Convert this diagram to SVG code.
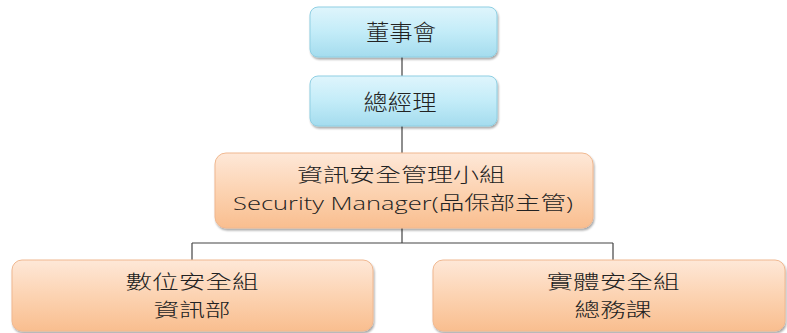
<svg xmlns="http://www.w3.org/2000/svg" width="787" height="333" viewBox="0 0 787 333">
<style>
.t{font-family:"Noto Sans CJK TC","Noto Sans",sans-serif;font-size:22px;font-weight:300;fill:#222;text-anchor:middle}
.s{font-size:19px}
.lat{font-family:"Open Sans","Noto Sans CJK TC",sans-serif}
.blue{fill:url(#gb);stroke:#8fcfe3;stroke-width:1}
.orange{fill:url(#go);stroke:#f0b890;stroke-width:1}
.c{stroke:#444;stroke-width:1.2;fill:none}
</style>
<defs>
<linearGradient id="gb" x1="0" y1="0" x2="0" y2="1">
<stop offset="0" stop-color="#dff5fc"/>
<stop offset="0.5" stop-color="#c3ecf8"/>
<stop offset="1" stop-color="#a4dcee"/>
</linearGradient>
<linearGradient id="go" x1="0" y1="0" x2="0" y2="1">
<stop offset="0" stop-color="#fee8d8"/>
<stop offset="0.5" stop-color="#fcd3b2"/>
<stop offset="1" stop-color="#f9be8f"/>
</linearGradient>
<filter id="sh" x="-5%" y="-10%" width="110%" height="130%">
<feGaussianBlur in="SourceAlpha" stdDeviation="1.2"/>
<feOffset dx="1" dy="2" result="b"/>
<feComponentTransfer><feFuncA type="linear" slope="0.35"/></feComponentTransfer>
<feMerge><feMergeNode/><feMergeNode in="SourceGraphic"/></feMerge>
</filter>
</defs>
<g id="connectors">
<path class="c" d="M402 57V76M402 126V153M402 228V243M192 243H613M192 243V260M613 243V260"/>
</g>
<g id="board">
<rect class="blue" x="310" y="7" width="187" height="50" rx="8" filter="url(#sh)"/>
<text class="t" x="401" y="40" textLength="70" lengthAdjust="spacingAndGlyphs">董事會</text>
</g>
<g id="gm">
<rect class="blue" x="310" y="76" width="187" height="50" rx="8" filter="url(#sh)"/>
<text class="t" x="400" y="110" textLength="73" lengthAdjust="spacingAndGlyphs">總經理</text>
</g>
<g id="isms">
<rect class="orange" x="215" y="153" width="378" height="75" rx="11" filter="url(#sh)"/>
<text class="t s" x="401" y="182" textLength="208" lengthAdjust="spacingAndGlyphs">資訊安全管理小組</text>
<text class="t s lat" x="403" y="210" textLength="340" lengthAdjust="spacingAndGlyphs">Security Manager(品保部主管)</text>
</g>
<g id="digital">
<rect class="orange" x="12" y="260" width="361" height="71" rx="10" filter="url(#sh)"/>
<text class="t s" x="192" y="289" textLength="133" lengthAdjust="spacingAndGlyphs">數位安全組</text>
<text class="t s" x="192" y="317" textLength="77" lengthAdjust="spacingAndGlyphs">資訊部</text>
</g>
<g id="physical">
<rect class="orange" x="433" y="260" width="352" height="71" rx="10" filter="url(#sh)"/>
<text class="t s" x="613" y="289" textLength="133" lengthAdjust="spacingAndGlyphs">實體安全組</text>
<text class="t s" x="613" y="317" textLength="77" lengthAdjust="spacingAndGlyphs">總務課</text>
</g>
</svg>
